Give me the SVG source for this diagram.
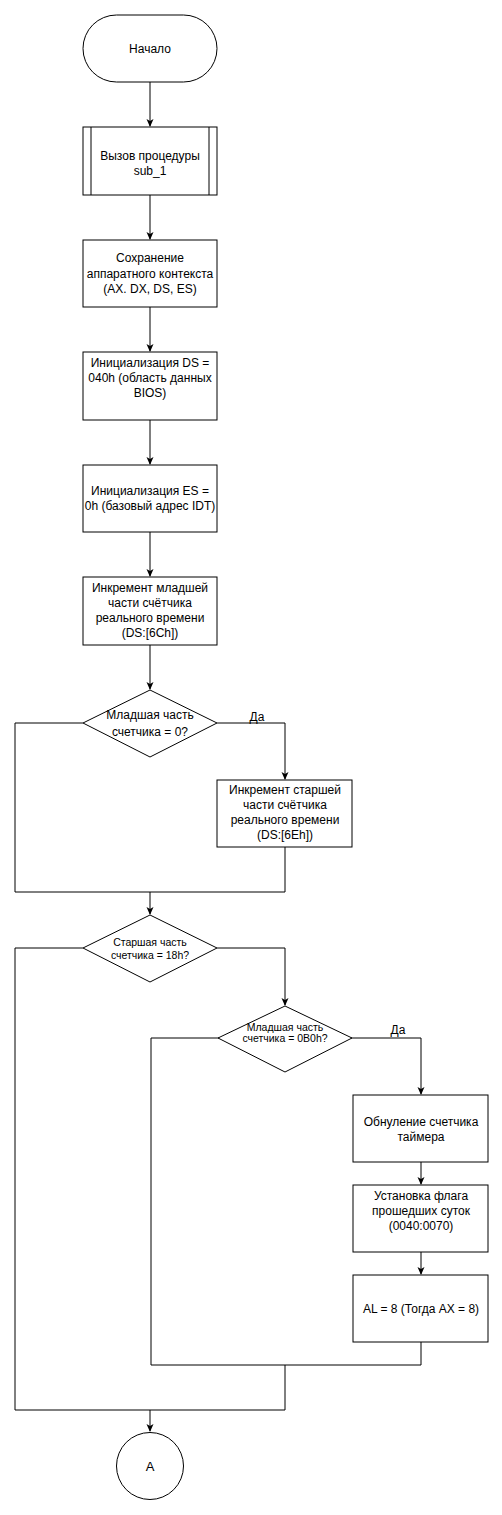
<svg xmlns="http://www.w3.org/2000/svg" width="502" height="1515" viewBox="0 0 502 1515">
<style>
.s{fill:#fff;stroke:#000;stroke-width:1}
.c{fill:none;stroke:#000;stroke-width:1}
text{font-family:"Liberation Sans",Arial,sans-serif;font-size:12px;fill:#000;text-anchor:middle}
.sm{font-size:10.5px}
</style>
<defs>
<marker id="a" markerWidth="8" markerHeight="8" refX="7" refY="4" orient="auto" markerUnits="userSpaceOnUse">
<path d="M0,0.5 L8,4 L0,7.5 L2,4 z" fill="#000"/>
</marker>
</defs>
<rect width="502" height="1515" fill="#fff"/>
<g id="connectors">
<path class="c" d="M150,82 V126" marker-end="url(#a)"/>
<path class="c" d="M150,195 V239" marker-end="url(#a)"/>
<path class="c" d="M150,307 V351" marker-end="url(#a)"/>
<path class="c" d="M150,420 V464" marker-end="url(#a)"/>
<path class="c" d="M150,532 V576" marker-end="url(#a)"/>
<path class="c" d="M150,645 V689" marker-end="url(#a)"/>
<path class="c" d="M217,723 H285 V779" marker-end="url(#a)"/>
<path class="c" d="M83,723 H15 V892 H285 V847"/>
<path class="c" d="M150,892 V914" marker-end="url(#a)"/>
<path class="c" d="M217,948 H285 V1005" marker-end="url(#a)"/>
<path class="c" d="M218,1038 H421 V1094" marker-end="url(#a)"/>
<path class="c" d="M421,1162 V1184" marker-end="url(#a)"/>
<path class="c" d="M421,1252 V1274" marker-end="url(#a)"/>
<path class="c" d="M421,1342 V1365 H151 V1038 H218"/>
<path class="c" d="M285,1365 V1410 H15 V948 H83"/>
<path class="c" d="M150,1410 V1431" marker-end="url(#a)"/>
<text x="257" y="721">Да</text>
<text x="398" y="1034">Да</text>
</g>
<g id="start">
<rect class="s" x="83" y="15" width="134" height="67" rx="33.5" ry="33.5"/>
<text x="150" y="53">Начало</text>
</g>
<g id="sub1">
<rect class="s" x="83" y="127" width="134" height="68"/>
<path class="c" d="M91,127 V195 M209,127 V195"/>
<text x="150" y="160">Вызов процедуры</text>
<text x="150" y="175">sub_1</text>
</g>
<g id="save">
<rect class="s" x="83" y="240" width="134" height="67"/>
<text x="150" y="262">Сохранение</text>
<text x="150" y="278">аппаратного контекста</text>
<text x="150" y="293">(AX. DX, DS, ES)</text>
</g>
<g id="initds">
<rect class="s" x="83" y="352" width="134" height="68"/>
<text x="150" y="367">Инициализация DS =</text>
<text x="150" y="382">040h (область данных</text>
<text x="150" y="397">BIOS)</text>
</g>
<g id="inites">
<rect class="s" x="83" y="465" width="134" height="67"/>
<text x="150" y="495">Инициализация ES =</text>
<text x="150" y="510">0h (базовый адрес IDT)</text>
</g>
<g id="inclow">
<rect class="s" x="83" y="577" width="134" height="68"/>
<text x="150" y="592">Инкремент младшей</text>
<text x="150" y="607">части счётчика</text>
<text x="150" y="622">реального времени</text>
<text x="150" y="637">(DS:[6Ch])</text>
</g>
<g id="dec1">
<path class="s" d="M150,690 L217,723 L150,757 L83,723 Z"/>
<text x="150" y="719">Младшая часть</text>
<text x="150" y="736">счетчика = 0?</text>
</g>
<g id="inchigh">
<rect class="s" x="217" y="780" width="135" height="67"/>
<text x="285" y="794">Инкремент старшей</text>
<text x="285" y="809">части счётчика</text>
<text x="285" y="824">реального времени</text>
<text x="285" y="839">(DS:[6Eh])</text>
</g>
<g id="dec2">
<path class="s" d="M150,915 L217,948 L150,982 L83,948 Z"/>
<text class="sm" x="150" y="945.5">Старшая часть</text>
<text class="sm" x="150" y="958.5">счетчика = 18h?</text>
</g>
<g id="dec3">
<path class="s" d="M285,1006 L352,1038 L285,1072 L218,1038 Z"/>
<text class="sm" x="285" y="1030.5">Младшая часть</text>
<text class="sm" x="285" y="1042">счетчика = 0B0h?</text>
</g>
<g id="reset">
<rect class="s" x="353" y="1095" width="135" height="67"/>
<text x="421" y="1126">Обнуление счетчика</text>
<text x="421" y="1141">таймера</text>
</g>
<g id="flag">
<rect class="s" x="353" y="1185" width="135" height="67"/>
<text x="421" y="1200">Установка флага</text>
<text x="421" y="1215">прошедших суток</text>
<text x="421" y="1230">(0040:0070)</text>
</g>
<g id="al">
<rect class="s" x="353" y="1275" width="135" height="67"/>
<text x="421" y="1313">AL = 8 (Тогда AX = 8)</text>
</g>
<g id="endA">
<circle class="s" cx="150" cy="1466" r="33.5"/>
<text x="150" y="1471" style="font-size:13px">A</text>
</g>
</svg>
